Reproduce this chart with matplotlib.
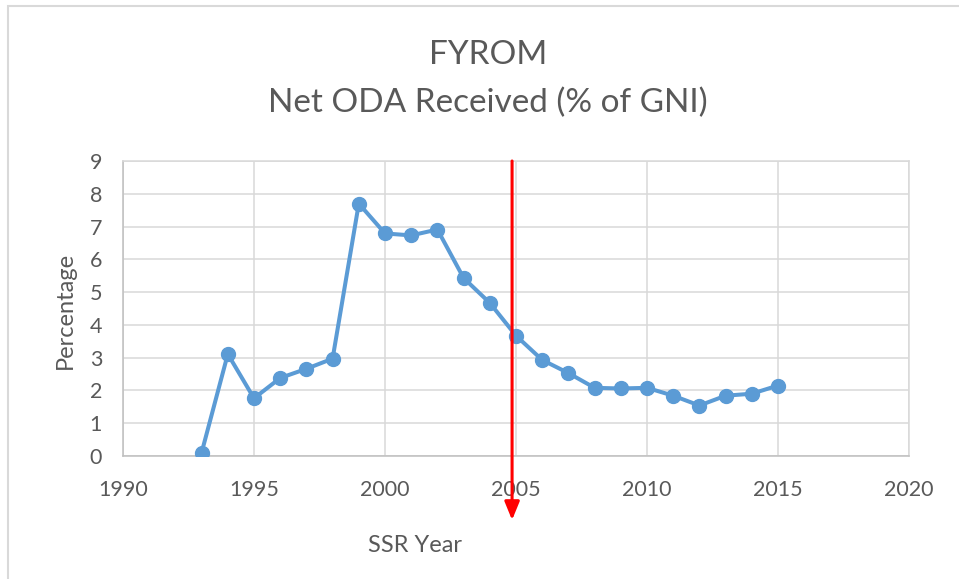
import matplotlib.pyplot as plt
from matplotlib.patches import Rectangle

# Net ODA received (% of GNI), FYROM
years = [1993, 1994, 1995, 1996, 1997, 1998, 1999, 2000, 2001, 2002, 2003, 2004,
         2005, 2006, 2007, 2008, 2009, 2010, 2011, 2012, 2013, 2014, 2015]
oda_pct = [0.10, 3.11, 1.76, 2.38, 2.66, 2.97, 7.70, 6.79, 6.73, 6.91, 5.43, 4.67,
           3.67, 2.93, 2.53, 2.08, 2.06, 2.08, 1.84, 1.54, 1.84, 1.90, 2.15]
x_ticks = [1990, 1995, 2000, 2005, 2010, 2015, 2020]
y_ticks = list(range(0, 10))
ssr_year = 2004.85

plt.rcParams['font.family'] = ['Lato', 'DejaVu Sans']
text_col = '#595959'
grid_col = '#D9D9D9'

fig = plt.figure(figsize=(9.59, 5.79), dpi=100)
W, H = 959, 579
ax = fig.add_axes([123 / W, 1 - 456 / H, (909 - 123) / W, (456 - 161) / H])

ax.plot(years, oda_pct, color='#5B9BD5', linewidth=2.9, marker='o',
        markersize=10, zorder=3)

ax.set_xlim(1990, 2020)
ax.set_ylim(0, 9)
ax.set_xticks(x_ticks)
ax.set_yticks(y_ticks)
ax.grid(True, color=grid_col, linewidth=1.1)
ax.set_axisbelow(True)
for s in ax.spines.values():
    s.set_color(grid_col)
    s.set_linewidth(1.1)
ax.spines['bottom'].set_color('#BFBFBF')
ax.spines['left'].set_color('#BFBFBF')
ax.tick_params(length=0, labelsize=15.5, labelcolor=text_col)
ax.tick_params(axis='x', pad=17)
ax.tick_params(axis='y', pad=15)

# red arrow marking the SSR year
ax.annotate('', xy=(ssr_year, -0.217), xycoords=('data', 'axes fraction'),
            xytext=(ssr_year, 1.0), textcoords=('data', 'axes fraction'),
            arrowprops=dict(arrowstyle='-|>,head_length=1.1,head_width=0.45',
                            color='#FF0000', lw=2.2, shrinkA=0, shrinkB=0),
            annotation_clip=False, zorder=4)

fig.text(488 / W, 1 - 55 / H, 'FYROM', ha='center', va='center',
         fontsize=24, color=text_col)
fig.text(488 / W, 1 - 103 / H, 'Net ODA Received (% of GNI)', ha='center',
         va='center', fontsize=24, color=text_col)
fig.text(65 / W, 1 - 310 / H, 'Percentage', ha='center', va='center',
         rotation=90, fontsize=17, color=text_col)
fig.text(415 / W, 1 - 545 / H, 'SSR Year', ha='center', va='center',
         fontsize=17, color=text_col)

# outer chart border (left and top edges visible)
fig.patches.append(Rectangle((8 / W, -0.1), 1.2, 1 - 6 / H + 0.1,
                             transform=fig.transFigure, fill=False,
                             edgecolor=grid_col, linewidth=1.5))

fig.savefig('out.png', dpi=100)
